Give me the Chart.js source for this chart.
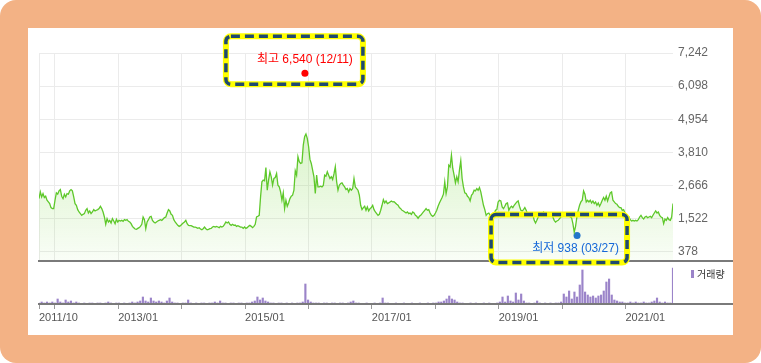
<!DOCTYPE html>
<html lang="ko">
<head>
<meta charset="UTF-8">
<title>주가 차트</title>
<script src="https://cdn.jsdelivr.net/npm/chart.js"></script>
<style>
    body { margin: 0; background: #fff; }
    .frame { position: absolute; left: 0; top: 0; width: 761px; height: 363px; background: #f3b285; border-radius: 16px; }
    .panel { position: absolute; left: 28px; top: 28px; width: 705px; height: 307px; background: #fff; }
    canvas { position: absolute; left: 0; top: 0; }
</style>
</head>
<body>
<div class="frame"></div>
<div class="panel"></div>
<canvas id="priceChart" width="761" height="363"></canvas>
<canvas id="volumeChart" width="761" height="363"></canvas>
<script>
// 2011/10 ~ 2021/10, months from the first point
const spanMonths = 120;

// weekly close (원)
const prices = [
    2215, 2446, 2273, 2389, 2250, 2296, 2158, 2100, 2042, 1903,
    1869, 1869, 2158, 2412, 2366, 2481, 2527, 2296, 2215, 2366,
    2273, 2389, 2366, 2481, 2527, 2481, 2273, 2042, 1984, 1834,
    1753, 1695, 1638, 1672, 1695, 1811, 1869, 1718, 1788, 1695,
    1753, 1834, 1788, 1811, 1834, 1869, 1950, 1869, 1753, 1580,
    1326, 1522, 1407, 1464, 1372, 1522, 1441, 1349, 1499, 1407,
    1464, 1441, 1464, 1430, 1487, 1464, 1487, 1430, 1407, 1349,
    1256, 1210, 1164, 1152, 1187, 1210, 1256, 1326, 1580, 1487,
    1175, 1407, 1487, 1580, 1603, 1464, 1407, 1372, 1407, 1441,
    1464, 1487, 1464, 1510, 1557, 1580, 1718, 1834, 1788, 1672,
    1638, 1487, 1407, 1349, 1291, 1256, 1280, 1326, 1372, 1407,
    1464, 1349, 1291, 1280, 1280, 1256, 1233, 1233,
    1210, 1187, 1210, 1164, 1141, 1175, 1233, 1175, 1141, 1152,
    1175, 1187, 1233, 1256, 1233, 1256, 1233, 1210, 1256, 1233,
    1256, 1326, 1407, 1372, 1407, 1326, 1291, 1326, 1291, 1302,
    1256, 1280, 1256, 1233, 1233, 1187, 1233, 1187, 1210, 1256,
    1291, 1256, 1210, 1256, 1326, 1580, 1603, 1638, 2273, 2793,
    2851, 2828, 3290, 2504, 2851, 3140, 2967, 2678, 2909, 2943,
    3082, 2678, 2619, 2446, 2158, 2412, 1869, 2158, 1950, 2065,
    2215, 2296, 2331, 2504, 3174, 3024, 3660, 3486, 3429, 3452,
    4064, 4353, 4446, 4295, 4006, 3567, 3429, 3198, 2967, 2389,
    3024, 2619, 2619, 2643, 2619, 2666, 3024, 2990, 3140, 3024,
    2909, 2967, 2874, 3068, 3313, 2793, 2504, 2678, 2735, 2758,
    2678, 2619, 2527, 2562, 2446, 2562, 2504, 2562, 2909, 2619,
    2562, 2504, 2331, 1984, 1834, 1903, 1950, 1811, 1926, 1788,
    1869, 1903, 1984, 1834, 1753, 1695, 1638, 1672, 1811, 1984,
    2181, 2065, 2134, 2042, 2065, 2100, 2134, 2100, 2111, 2065,
    2019, 1984, 1903, 1869, 1811, 1788, 1753, 1718, 1753, 1695,
    1718, 1672, 1753, 1718, 1638, 1603, 1534, 1603, 1638, 1695,
    1753, 1811, 1869, 1811, 1834, 1718, 1638, 1603, 1638, 1718,
    1811, 1950, 2065, 2158, 2250, 2366, 2793, 2389, 2619, 3371,
    3313, 3718, 3255, 3024, 2758, 2967, 2793, 3198, 3521, 2909,
    2619, 2412, 2389, 2296, 2250, 2134, 2331, 2389, 2504, 2481,
    2562, 2504, 2597, 2446, 2215, 1984, 1834, 1638, 1695, 1718,
    1638, 1638, 1638, 1672, 1811, 1834, 2100, 2158, 2134, 1926,
    1869, 1950, 2042, 2065, 1811, 1903, 1950, 1903, 1984, 2042,
    2100, 2134, 1950, 1811, 1788, 1834, 1903, 1811, 1695, 1695,
    1672, 1718, 1672, 1464, 1372, 1464, 1580, 1672, 1638, 1695,
    1753, 1695, 1672, 1638, 1695, 1638, 1672, 1580, 1464, 1407,
    1441, 1464, 1522, 1580, 1638, 1672, 1638, 1695, 1672, 1626,
    1580, 1557, 1349, 1060, 1256, 1580, 1811, 1984, 2100, 2158,
    2481, 2366, 2100, 2158, 2100, 2158, 2065, 2134, 2042, 2100,
    1984, 2065, 1950, 2042, 2158, 2250, 2158, 2296, 2134, 2273,
    2412, 2446, 2158, 2100, 2042, 2019, 1950, 1903, 1903, 1811,
    1834, 1718, 1603, 1557, 1580, 1487, 1441, 1464, 1441, 1464,
    1441, 1487, 1580, 1638, 1557, 1510, 1580, 1603, 1557, 1580,
    1603, 1557, 1638, 1718, 1788, 1718, 1753, 1638, 1580, 1557,
    1349, 1510, 1464, 1557, 1487, 1464, 1580, 2042
];

// 거래량 (천 주)
const volumes = [
    25, 50, 25, 50, 25, 50, 25, 125, 50, 25,
    100, 50, 75, 25, 50, 25, 0, 25, 0, 25,
    25, 0, 25, 25, 0, 25, 50, 25, 0, 25,
    25, 0, 25, 0, 25, 50, 25, 50, 75, 175,
    75, 50, 150, 75, 50, 75, 50, 25, 75, 150,
    50, 25, 25, 0, 25, 25, 100, 25, 0, 25,
    0, 25, 25, 0, 25, 25, 50, 25, 75, 25,
    25, 0, 25, 25, 0, 25, 25, 0, 25, 25,
    50, 75, 175, 100, 150, 75, 50, 25, 25, 0,
    25, 25, 0, 25, 0, 25, 0, 25, 25, 50,
    500, 100, 50, 25, 25, 25, 0, 25, 25, 0,
    25, 25, 0, 25, 25, 0, 25, 50, 75, 25,
    25, 0, 0, 25, 0, 0, 25, 0, 25, 150,
    25, 25, 0, 0, 25, 0, 0, 25, 0, 0,
    25, 0, 0, 25, 0, 0, 25, 0, 25, 25,
    50, 50, 75, 125, 200, 125, 100, 50, 25, 25,
    0, 0, 25, 0, 25, 0, 0, 25, 0, 25,
    0, 0, 25, 50, 175, 50, 200, 75, 50, 275,
    100, 250, 75, 25, 25, 0, 25, 75, 25, 0,
    25, 0, 25, 0, 25, 25, 50, 250, 175, 325,
    125, 300, 175, 475, 850, 300, 225, 175, 200, 150,
    200, 225, 325, 550, 625, 225, 100, 75, 50, 50,
    25, 25, 50, 25, 50, 25, 25, 50, 25, 25,
    50, 75, 150, 50, 25, 50, 25, 25, 900
];

const yTicks = [378, 1522, 2666, 3810, 4954, 6098, 7242];
const xTickMonths = [0, 3, 15, 27, 39, 51, 63, 75, 87, 99, 111];
const xTickLabels = ['2011/10', '', '2013/01', '', '2015/01', '', '2017/01', '', '2019/01', '', '2021/01'];

const highPoint = { month: 50.33, value: 6540, label: '최고 6,540 (12/11)' };
const lowPoint = { month: 101.84, value: 938, label: '최저 938 (03/27)' };

const FONT = '"Liberation Sans", "Noto Sans CJK KR", sans-serif';
Chart.defaults.font.family = FONT;

const pricePoints = prices.map((v, i) => ({ x: i * spanMonths / (prices.length - 1), y: v }));
const volumePoints = volumes.map((v, i) => ({ x: i * spanMonths / (volumes.length - 1), y: v }));

// dashed yellow/navy highlight box
function drawBox(ctx, l, t, r, b) {
    ctx.save();
    ctx.beginPath();
    ctx.roundRect(l, t, r - l, b - t, 5);
    ctx.lineWidth = 6;
    ctx.strokeStyle = '#ffff00';
    ctx.stroke();
    ctx.beginPath();
    ctx.roundRect(l, t, r - l, b - t, 5);
    ctx.lineWidth = 3.5;
    ctx.strokeStyle = '#1f4a70';
    ctx.setLineDash([9, 5]);
    ctx.stroke();
    ctx.restore();
}

const priceDecor = {
    id: 'priceDecor',
    afterDraw(chart) {
        const { ctx, chartArea, scales: { x, y } } = chart;
        // axis base line, runs out to the panel edge
        ctx.save();
        ctx.strokeStyle = '#7a7a7a';
        ctx.lineWidth = 2;
        ctx.beginPath();
        ctx.moveTo(chartArea.left - 1, chartArea.bottom);
        ctx.lineTo(chart.width - 28, chartArea.bottom);
        ctx.stroke();

        ctx.font = '12px ' + FONT;
        ctx.textAlign = 'center';
        ctx.textBaseline = 'middle';

        const hx = x.getPixelForValue(highPoint.month);
        const hy = y.getPixelForValue(highPoint.value);
        ctx.fillStyle = '#ff0000';
        ctx.fillText(highPoint.label, hx, hy - 14);
        drawBox(ctx, hx - 79, hy - 37, hx + 58, hy + 11);

        const lx = x.getPixelForValue(lowPoint.month);
        const ly = y.getPixelForValue(lowPoint.value);
        ctx.fillStyle = '#1668d8';
        ctx.fillText(lowPoint.label, lx - 1.5, ly + 13);
        drawBox(ctx, lx - 86, ly - 21, lx + 50, ly + 27);
        ctx.restore();
    }
};

const volumeDecor = {
    id: 'volumeDecor',
    afterDraw(chart) {
        const { ctx, chartArea } = chart;
        ctx.save();
        ctx.strokeStyle = '#7a7a7a';
        ctx.lineWidth = 2;
        ctx.beginPath();
        ctx.moveTo(chartArea.left - 1, chartArea.bottom);
        ctx.lineTo(chart.width - 28, chartArea.bottom);
        ctx.stroke();

        // legend
        ctx.fillStyle = '#9b84c9';
        ctx.fillRect(chartArea.right + 18, chartArea.top + 8, 3, 8);
        ctx.fillStyle = '#333';
        ctx.font = '10px "Noto Sans CJK KR", sans-serif';
        ctx.textAlign = 'left';
        ctx.textBaseline = 'middle';
        ctx.fillText('거래량', chartArea.right + 24, chartArea.top + 12);
        ctx.restore();
    }
};

const setXTicks = s => { s.ticks = xTickMonths.map(v => ({ value: v })); };

const priceChart = new Chart(document.getElementById('priceChart'), {
    type: 'line',
    data: {
        datasets: [
            {
                data: pricePoints,
                borderColor: '#5ec82a',
                borderWidth: 1.3,
                pointRadius: 0,
                tension: 0,
                fill: 'start',
                backgroundColor: c => {
                    const area = c.chart.chartArea;
                    if (!area) return 'rgba(0,0,0,0)';
                    const g = c.chart.ctx.createLinearGradient(0, area.top, 0, area.bottom);
                    g.addColorStop(0, 'rgba(140, 220, 90, 0.5)');
                    g.addColorStop(1, 'rgba(140, 220, 90, 0.05)');
                    return g;
                }
            },
            {
                type: 'scatter',
                data: [{ x: highPoint.month, y: highPoint.value }],
                pointRadius: 3.5,
                pointBackgroundColor: '#ff0000',
                pointBorderWidth: 0
            },
            {
                type: 'scatter',
                data: [{ x: lowPoint.month, y: lowPoint.value }],
                pointRadius: 3.5,
                pointBackgroundColor: '#1668d8',
                pointBorderWidth: 0
            }
        ]
    },
    options: {
        responsive: false,
        animation: false,
        events: [],
        layout: { padding: { left: 39, top: 53, right: 28, bottom: 102 } },
        plugins: { legend: { display: false }, tooltip: { enabled: false } },
        scales: {
            x: {
                type: 'linear',
                min: 0,
                max: spanMonths,
                afterBuildTicks: setXTicks,
                afterFit: s => { s.height = 0; },
                ticks: { display: false },
                grid: { color: '#ebebeb', drawTicks: false },
                border: { display: false }
            },
            y: {
                position: 'right',
                min: 60,
                max: 7242,
                afterBuildTicks: s => { s.ticks = yTicks.map(v => ({ value: v })); },
                afterFit: s => { s.width = 60; },
                ticks: {
                    color: '#666',
                    font: { size: 12 },
                    padding: 5,
                    callback: v => v.toLocaleString('en-US')
                },
                grid: { color: '#ebebeb', drawTicks: false },
                border: { display: false }
            }
        }
    },
    plugins: [priceDecor]
});

const volumeChart = new Chart(document.getElementById('volumeChart'), {
    type: 'bar',
    data: {
        datasets: [{
            data: volumePoints,
            backgroundColor: '#9b84c9',
            barThickness: 1.5
        }]
    },
    options: {
        responsive: false,
        animation: false,
        events: [],
        layout: { padding: { left: 39, top: 262, right: 88, bottom: 0 } },
        plugins: { legend: { display: false }, tooltip: { enabled: false } },
        scales: {
            x: {
                type: 'linear',
                min: 0,
                max: spanMonths,
                offset: false,
                afterBuildTicks: setXTicks,
                afterFit: s => { s.height = 59; },
                ticks: {
                    align: 'start',
                    color: '#555',
                    font: { size: 11 },
                    padding: 2,
                    maxRotation: 0,
                    autoSkip: false,
                    callback: (v, i) => xTickLabels[i]
                },
                grid: { drawOnChartArea: false, offset: false, tickLength: 5, color: '#999' },
                border: { display: false }
            },
            y: { display: false, min: 0, max: 1050 }
        }
    },
    plugins: [volumeDecor]
});
</script>
</body>
</html>
